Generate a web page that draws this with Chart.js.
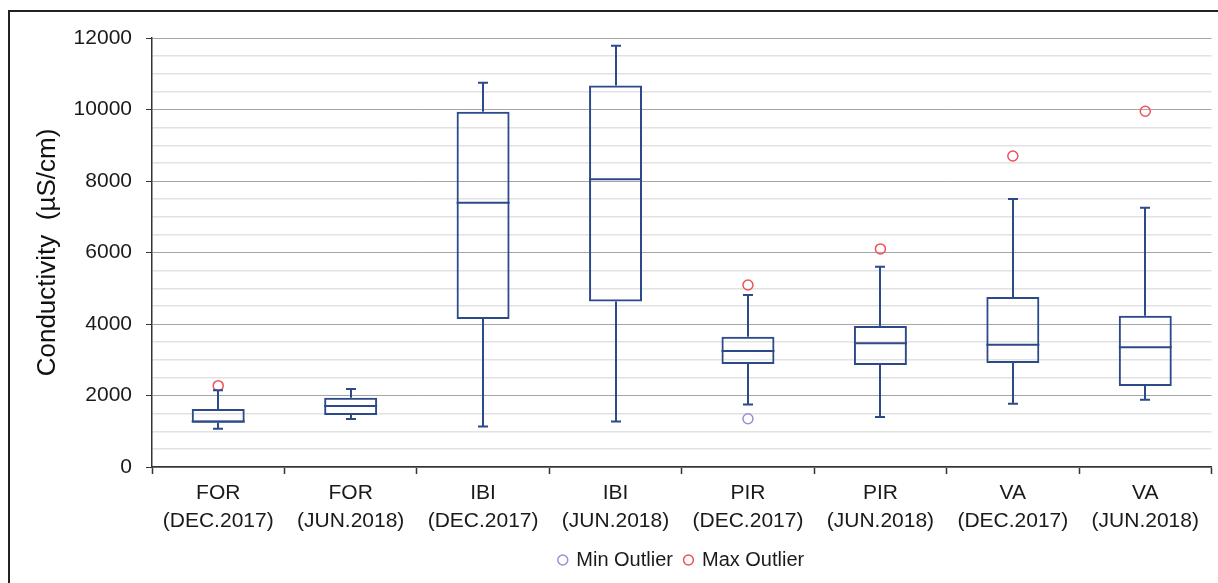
<!DOCTYPE html>
<html>
<head>
  <title>Conductivity box plot</title>
  <style>
    body {
      margin: 0;
      background: #fff;
    }
    #wrap {
      position: relative;
      width: 1218px;
      height: 583px;
      overflow: hidden;
    }
    #frame {
      position: absolute;
      left: 8px;
      top: 10px;
      width: 1300px;
      height: 700px;
      border-left: 2px solid #222;
      border-top: 2px solid #222;
      pointer-events: none;
    }
    canvas {
      position: absolute;
      left: 0;
      top: 0;
    }
  </style>
</head>
<body>
  <div id="wrap">
    <canvas id="chart" width="1218" height="583"></canvas>
    <div id="frame"></div>
  </div>

  <script src="https://cdn.jsdelivr.net/npm/chart.js"></script>
  <script>
    const categories = [
      ['FOR', '(DEC.2017)'], ['FOR', '(JUN.2018)'],
      ['IBI', '(DEC.2017)'], ['IBI', '(JUN.2018)'],
      ['PIR', '(DEC.2017)'], ['PIR', '(JUN.2018)'],
      ['VA', '(DEC.2017)'], ['VA', '(JUN.2018)']
    ];
    const whiskerLow  = [1070, 1340, 1130, 1270, 1750, 1400, 1770, 1880];
    const q1          = [1240, 1455, 4140, 4630, 2880, 2850, 2910, 2265];
    const median      = [1270, 1706, 7390, 8050, 3245, 3460, 3420, 3350];
    const q3          = [1620, 1940, 9940, 10670, 3645, 3945, 4755, 4230];
    const whiskerHigh = [2150, 2180, 10750, 11780, 4810, 5600, 7500, 7250];
    const minOutlier  = [null, null, null, null, 1350, null, null, null];
    const maxOutlier  = [2275, null, null, null, 5090, 6100, 8700, 9950];
    const yTicks = [0, 2000, 4000, 6000, 8000, 10000, 12000];

    const boxColor = '#2c4989';
    const font = "'Liberation Sans', Arial, sans-serif";

    // whiskers, caps and median lines, placed from the bar elements and y scale
    const whiskerPlugin = {
      id: 'whiskers',
      afterDatasetsDraw(chart) {
        const ctx = chart.ctx;
        const y = chart.scales.y;
        const meta = chart.getDatasetMeta(0);
        ctx.save();
        ctx.strokeStyle = boxColor;
        ctx.lineWidth = 2;
        meta.data.forEach((bar, i) => {
          const x = Math.round(bar.x);
          const half = bar.width / 2;
          const cap = 5;
          const yLo = y.getPixelForValue(whiskerLow[i]);
          const yQ1 = y.getPixelForValue(q1[i]);
          const yMed = y.getPixelForValue(median[i]);
          const yQ3 = y.getPixelForValue(q3[i]);
          const yHi = y.getPixelForValue(whiskerHigh[i]);
          ctx.beginPath();
          ctx.moveTo(x, yQ3); ctx.lineTo(x, yHi);
          ctx.moveTo(x - cap, yHi); ctx.lineTo(x + cap, yHi);
          ctx.moveTo(x, yQ1); ctx.lineTo(x, yLo);
          ctx.moveTo(x - cap, yLo); ctx.lineTo(x + cap, yLo);
          ctx.moveTo(bar.x - half, yMed); ctx.lineTo(bar.x + half, yMed);
          ctx.stroke();
        });
        ctx.restore();
      }
    };

    new Chart(document.getElementById('chart'), {
      type: 'bar',
      data: {
        labels: categories,
        datasets: [
          {
            label: 'Box',
            data: q1.map((v, i) => [v, q3[i]]),
            backgroundColor: 'rgba(0,0,0,0)',
            borderColor: boxColor,
            borderWidth: 2,
            borderSkipped: false,
            barPercentage: 0.4,
            categoryPercentage: 1.0
          },
          {
            type: 'line',
            label: 'Min Outlier',
            data: minOutlier,
            showLine: false,
            pointStyle: 'circle',
            pointRadius: 5,
            pointBorderWidth: 1.5,
            borderWidth: 1.5,
            borderColor: '#9a90cf',
            backgroundColor: 'rgba(255,255,255,0)'
          },
          {
            type: 'line',
            label: 'Max Outlier',
            data: maxOutlier,
            showLine: false,
            pointStyle: 'circle',
            pointRadius: 5,
            pointBorderWidth: 1.5,
            borderWidth: 1.5,
            borderColor: '#f0505a',
            backgroundColor: 'rgba(255,255,255,0)'
          }
        ]
      },
      options: {
        responsive: false,
        animation: false,
        devicePixelRatio: 1,
        layout: { padding: { left: 10, right: 5, top: 38, bottom: 3 } },
        plugins: {
          tooltip: { enabled: false },
          legend: {
            position: 'bottom',
            fullSize: false,
            labels: {
              filter: item => item.datasetIndex > 0,
              usePointStyle: true,
              boxWidth: 7,
              boxHeight: 7,
              padding: 12,
              color: '#1a1a1a',
              font: { family: font, size: 20 }
            }
          }
        },
        scales: {
          x: {
            offset: true,
            grid: {
              offset: true,
              drawOnChartArea: false,
              drawTicks: true,
              tickLength: 7,
              tickColor: '#333',
              tickWidth: 1.5
            },
            border: { color: '#333', width: 1.5 },
            ticks: {
              color: '#1a1a1a',
              padding: 5,
              maxRotation: 0,
              autoSkip: false,
              font: { family: font, size: 21, lineHeight: 1.33 }
            },
            afterFit(scale) { scale.height = 71; }
          },
          y: {
            min: 0,
            max: 12000,
            grid: {
              color: ctx => (ctx.tick && ctx.tick.value % 2000 === 0) ? '#a6a6a6' : '#e2e2e2',
              lineWidth: ctx => (ctx.tick && ctx.tick.value % 2000 === 0) ? 1 : 1.5,
              tickColor: ctx => (ctx.tick && ctx.tick.value % 2000 === 0) ? '#333' : 'rgba(0,0,0,0)',
              tickLength: 6,
              drawTicks: true
            },
            border: { color: '#333', width: 1.5 },
            ticks: {
              stepSize: 500,
              autoSkip: false,
              padding: 14,
              color: '#1a1a1a',
              font: { family: font, size: 21 },
              callback: v => yTicks.includes(v) ? String(v) : ''
            },
            title: {
              display: true,
              text: 'Conductivity  (\u00b5S/cm)',
              color: '#111',
              padding: { top: 22, bottom: 0 },
              font: { family: font, size: 26 }
            },
            afterFit(scale) { scale.width = 142; }
          }
        }
      },
      plugins: [whiskerPlugin]
    });
  </script>
</body>
</html>
